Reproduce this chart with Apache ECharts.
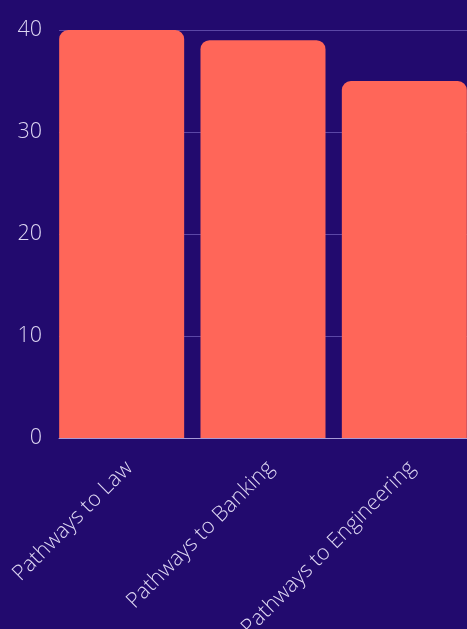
<!DOCTYPE html>
<html>
<head>
<meta charset="utf-8">
<script src="https://cdn.jsdelivr.net/npm/echarts@6/dist/echarts.min.js"></script>
<style>
  html, body { margin: 0; padding: 0; background: #220a6e; overflow: hidden; }
  #chart { width: 490px; height: 629px; }
</style>
</head>
<body>
<div id="chart"></div>
<script>
// Programme names and their counts
const categories = ['Pathways to Law', 'Pathways to Banking', 'Pathways to Engineering'];
const counts = [40, 39, 35];
const yTicks = { min: 0, max: 40, interval: 10 };

const chart = echarts.init(document.getElementById('chart'));

const labelFont = "'Open Sans Light', 'Open Sans', sans-serif";

chart.setOption({
  backgroundColor: '#220a6e',
  animation: false,
  grid: {
    left: 59, top: 30, width: 424, height: 408,
    containLabel: false,
    outerBoundsMode: 'none'
  },
  xAxis: {
    type: 'category',
    data: categories,
    axisLine: { show: true, lineStyle: { color: '#a89ad6', width: 1 } },
    axisTick: { show: false },
    axisLabel: {
      rotate: 45,
      margin: 27,
      color: '#ddd6f2',
      fontFamily: labelFont,
      fontWeight: 300,
      fontSize: 21.5,
      interval: 0
    }
  },
  yAxis: {
    type: 'value',
    min: yTicks.min,
    max: yTicks.max,
    interval: yTicks.interval,
    axisLine: { show: false },
    axisTick: { show: false },
    splitLine: { lineStyle: { color: '#5b47a6', width: 1 } },
    axisLabel: {
      margin: 17,
      color: '#ddd6f2',
      fontFamily: labelFont,
      fontWeight: 300,
      fontSize: 21.5
    }
  },
  series: [
    {
      type: 'bar',
      data: counts,
      barWidth: 125,
      barGap: 0,
      barCategoryGap: 0,
      itemStyle: { color: '#ff6659', borderRadius: [9, 9, 0, 0] }
    },
    {
      // transparent spacer that leaves the gap on the right of each bar
      type: 'bar',
      data: counts,
      barWidth: 16,
      silent: true,
      itemStyle: { color: 'rgba(0,0,0,0)' }
    }
  ]
});
</script>
</body>
</html>
